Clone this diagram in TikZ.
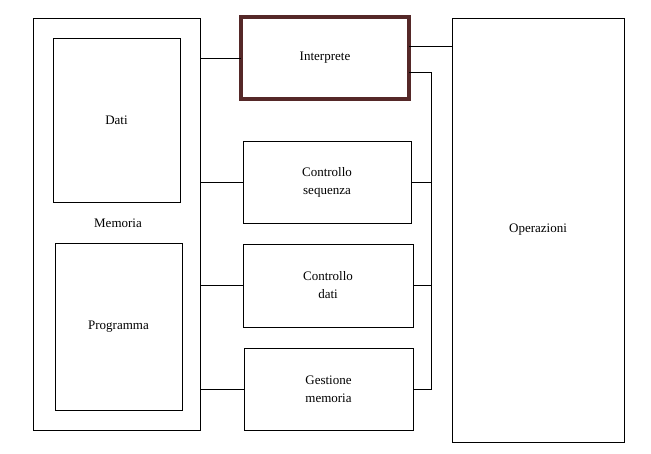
\documentclass[tikz,border=0pt]{standalone}
\usepackage{xcolor}
\usepackage{fontspec}
\setmainfont{Liberation Serif}
\definecolor{IntBrown}{RGB}{85,40,40}

\begin{document}
\begin{tikzpicture}[
    % Environment Config
    x=1pt, y=-1pt,
    font=\fontsize{13}{18}\selectfont,
    Block/.style={% Style for the plain blocks
      draw,
      rectangle,
      line width=0.9pt,
      inner sep=0pt,
      outer sep=0pt,
      align=center
    },
    MainBlock/.style={% Style for the highlighted block
      Block,
      draw=IntBrown,
      line width=3.2pt
    },
    Wire/.style={% Style for the connections
      line width=0.9pt
    }
  ]

  % Fix the page size
  \useasboundingbox (0,0) rectangle (651,453);

  %===Memoria===
  \node[Block, minimum width=167pt, minimum height=412pt] (Mem) at (116.5,224) {};
  \node[Block, minimum width=127pt, minimum height=164pt] (Dati) at (116.5,120) {Dati};
  \node (MemLabel) at (118,223) {Memoria};
  \node[Block, minimum width=127pt, minimum height=167pt] (Prog) at (118.5,326.5) {Programma};

  %===Central blocks===
  \node[MainBlock, minimum width=168pt, minimum height=82pt] (Interp) at (325,58) {Interprete};
  \node[Block, minimum width=168pt, minimum height=82pt] (CtrlSeq) at (327,182) {Controllo\\sequenza};
  \node[Block, minimum width=170pt, minimum height=83pt] (CtrlDati) at (328,285.5) {Controllo\\dati};
  \node[Block, minimum width=169pt, minimum height=82pt] (GestMem) at (328.5,389) {Gestione\\memoria};

  %===Operazioni===
  \node[Block, minimum width=172pt, minimum height=424pt] (Oper) at (538,230) {Operazioni};

  % Draw the Wires
  \draw[Wire]
  (Interp.west) -- (Interp.west -| Mem.east)
  (CtrlSeq.west) -- (CtrlSeq.west -| Mem.east)
  (CtrlDati.west) -- (CtrlDati.west -| Mem.east)
  (GestMem.west) -- (GestMem.west -| Mem.east);

  \draw[Wire]
  (Interp.8) -- (Interp.8 -| Oper.west);

  %===Right bus===
  \draw[Wire]
  (Interp.-10)
      -- ++(22,0) coordinate (BusTop)
      |- (GestMem.east)
  (CtrlSeq.east) -- (CtrlSeq.east -| BusTop)
  (CtrlDati.east) -- (CtrlDati.east -| BusTop);

\end{tikzpicture}
\end{document}
